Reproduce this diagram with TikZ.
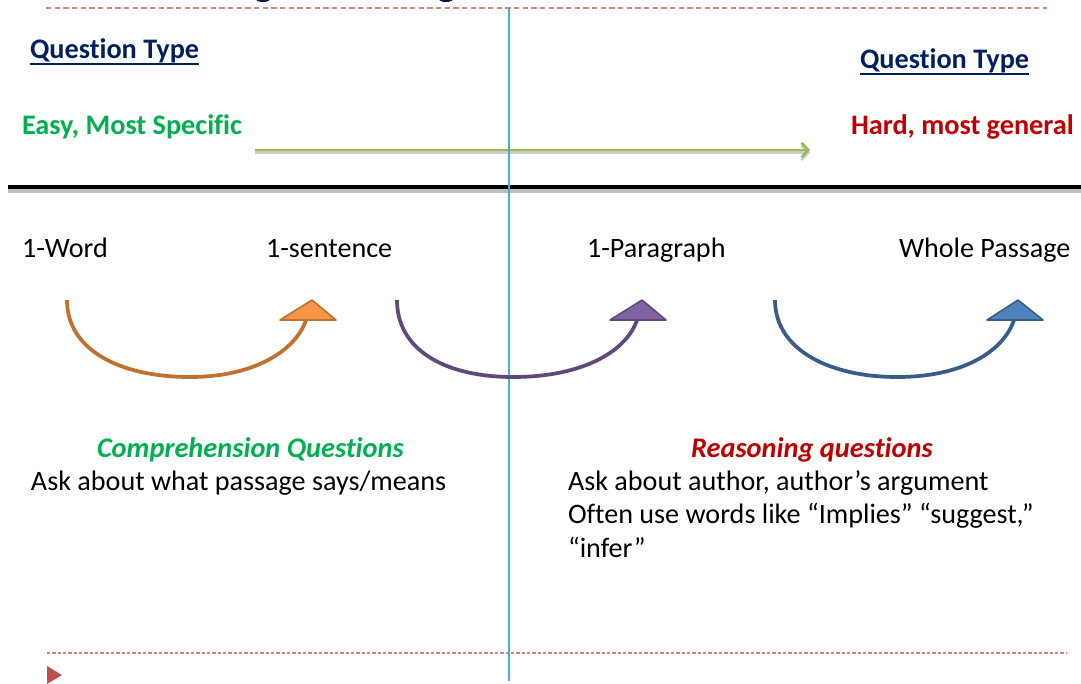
\documentclass[tikz,border=0pt]{standalone}
\usepackage{fontspec}
\setmainfont{Carlito}[Ligatures={NoCommon,TeX}]
\usetikzlibrary{arrows.meta}
\definecolor{navy}{HTML}{002060}
\definecolor{tgreen}{HTML}{00B050}
\definecolor{tred}{HTML}{C00000}
\definecolor{agreen}{HTML}{9BBB59}
\definecolor{vblue}{HTML}{4BACC6}
\definecolor{dred}{HTML}{C0504D}
\definecolor{oline}{HTML}{C0712F}
\definecolor{ofill}{HTML}{F79646}
\definecolor{pline}{HTML}{5F497A}
\definecolor{pfill}{HTML}{8064A2}
\definecolor{bline}{HTML}{385D8A}
\definecolor{bfill}{HTML}{4F81BD}
\tikzset{
  txt/.style={anchor=base west, inner sep=0pt, outer sep=0pt, font=\fontsize{21.1pt}{25pt}\selectfont},
  btxt/.style={anchor=base west, inner sep=0pt, outer sep=0pt, font=\fontsize{21.2pt}{25pt}\selectfont\bfseries},
  bitxt/.style={anchor=base west, inner sep=0pt, outer sep=0pt, font=\fontsize{21.3pt}{25pt}\selectfont\bfseries\itshape},
  curvearrow/.style={line width=2.8pt},
  headtri/.style={line width=1.2pt, line join=round},
  reddash/.style={dred!70, line width=1pt, dash pattern=on 4pt off 2.5pt},
}
\begin{document}
\begin{tikzpicture}[x=0.75pt,y=-0.75pt]
\useasboundingbox (0,0) rectangle (1081,684);
% title fragments
\fill[navy!80!black] (263,-1) ellipse [x radius=7, y radius=3];
\fill[navy!80!black] (446,-1) ellipse [x radius=7, y radius=3];
% dashed lines
\coordinate (td1) at (46,8); \coordinate (td2) at (1047,8);
\draw[reddash] (td1) -- (td2);
\coordinate (bd1) at (47,653); \coordinate (bd2) at (1066,653);
\draw[reddash, dash pattern=on 2.5pt off 1.5pt] (bd1) -- (bd2);
% bottom triangle
\fill[dred] (47,666) -- (62,675) -- (47,684) -- cycle;
% black line with shadow
\coordinate (bl1) at (8,187); \coordinate (bl2) at (1081,187);
\draw[black!25, line width=3pt] ([yshift=-3pt]bl1) -- ([yshift=-3pt]bl2);
\draw[black, line width=3pt] (bl1) -- (bl2);
% green arrow
\coordinate (ga1) at (255,150); \coordinate (ga2) at (810,150);
\draw[black!20, line width=2pt, -{Straight Barb[length=5pt,width=11pt]}] ([yshift=-2pt]ga1) -- ([yshift=-2pt]ga2);
\draw[agreen, line width=2pt, -{Straight Barb[length=5pt,width=11pt]}] (ga1) -- (ga2);
% vertical line
\coordinate (v1) at (509,8); \coordinate (v2) at (509,681);
\draw[vblue, line width=2.2pt] (v1) -- (v2);
% headers
\node[btxt, text=navy] (q1) at (30,59) {Question Type};
\draw[navy, line width=1.6pt] ([yshift=-3.5pt]q1.base west) -- ([yshift=-3.5pt]q1.base east);
\node[btxt, text=navy] (q2) at (860,69) {Question Type};
\draw[navy, line width=1.6pt] ([yshift=-3.5pt]q2.base west) -- ([yshift=-3.5pt]q2.base east);
\node[btxt, text=tgreen] (easy) at (22,134.5) {Easy, Most Specific};
\node[btxt, text=tred] (hard) at (851,134.5) {Hard, most general};
% scope labels
\node[txt] (w1) at (22,257.5) {1-Word};
\node[txt] (w2) at (266,257.5) {1-sentence};
\node[txt] (w3) at (587,257.5) {1-Paragraph};
\node[txt] (w4) at (899,257.5) {Whole Passage};
% curved arrows
\coordinate (oa) at (67,300); \coordinate (ob) at (190,377); \coordinate (oc) at (306,320);
\draw[oline, curvearrow] (oa) .. controls (67,350) and (120,377) .. (ob) .. controls (255,377) and (296,350) .. (oc);
\draw[oline, fill=ofill, headtri] (280,320) -- (312,300) -- (336,320) -- cycle;
\coordinate (pa) at (397,300); \coordinate (pb) at (513,377); \coordinate (pc) at (637,320);
\draw[pline, curvearrow] (pa) .. controls (397,350) and (445,377) .. (pb) .. controls (585,377) and (627,350) .. (pc);
\draw[pline, fill=pfill, headtri] (610,320) -- (642,300) -- (666,320) -- cycle;
\coordinate (ba) at (775,300); \coordinate (bb) at (897,377); \coordinate (bc) at (1014,320);
\draw[bline, curvearrow] (ba) .. controls (775,350) and (830,377) .. (bb) .. controls (965,377) and (1004,350) .. (bc);
\draw[bline, fill=bfill, headtri] (987,320) -- (1018,300) -- (1043,320) -- cycle;
% bottom texts
\node[bitxt, text=tgreen] (cq) at (97,457) {Comprehension Questions};
\node[txt] (cq1) at (31,490) {Ask about what passage says/means};
\node[bitxt, text=tred] (rq) at (691,457) {Reasoning questions};
\node[txt] (rq1) at (568,490) {Ask about author, author’s argument};
\node[txt] (rq2) at (568,523.5) {Often use words like “Implies” “suggest,”};
\node[txt] (rq3) at (568,557) {“infer”};
\end{tikzpicture}
\end{document}
